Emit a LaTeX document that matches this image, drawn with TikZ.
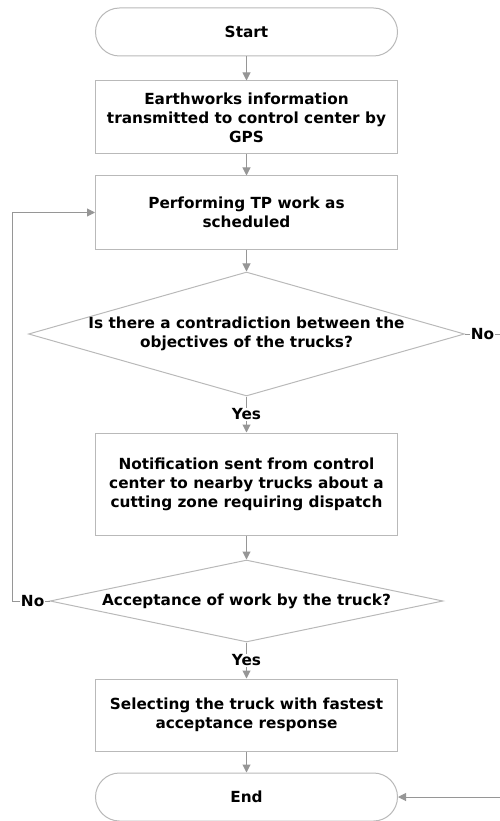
\documentclass[tikz,border=0pt]{standalone}
\usepackage{fontspec}
\setmainfont{DejaVu Sans}
\usetikzlibrary{arrows.meta,shapes.geometric}
\definecolor{boxline}{RGB}{185,185,185}
\definecolor{conn}{RGB}{150,150,150}
\tikzset{
  txt/.style={font=\fontsize{15.3}{19}\selectfont\bfseries, align=center, text=black},
  procbox/.style={draw=boxline, line width=1pt, fill=white, minimum width=302pt, inner sep=0pt, txt},
  termbox/.style={procbox, rounded corners=24pt, minimum height=48pt},
  decbox/.style={draw=boxline, line width=1pt, diamond, inner sep=0pt},
  flow/.style={draw=conn, line width=1pt, -{Triangle[length=8pt,width=8pt]}},
  plain/.style={draw=conn, line width=1pt},
  lbl/.style={txt, fill=white, inner sep=1pt}
}
\begin{document}
\begin{tikzpicture}[x=1pt,y=-1pt]
\useasboundingbox (0,0) rectangle (500,821);
\node[termbox] (start) at (246.5,32) {Start};
\node[procbox, minimum height=73pt] (b1) at (246.5,117.5) {Earthworks information\\transmitted to control center by\\GPS};
\node[procbox, minimum height=73pt] (b2) at (246.5,212.5) {Performing TP work as\\scheduled};
\node[decbox, minimum width=436pt, minimum height=124pt] (d1) at (246.5,334) {};
\node[txt] at (d1) {Is there a contradiction between the\\objectives of the trucks?};
\node[procbox, minimum height=102pt] (b3) at (246.5,484) {Notification sent from control\\center to nearby trucks about a\\cutting zone requiring dispatch};
\node[decbox, minimum width=393pt, minimum height=82pt] (d2) at (246.5,601) {};
\node[txt] at (d2) {Acceptance of work by the truck?};
\node[procbox, minimum height=72pt] (b4) at (246.5,715) {Selecting the truck with fastest\\acceptance response};
\node[termbox] (end) at (246.5,797) {End};
\coordinate (rightout) at (500,334);
\coordinate (rightin) at (500,797);
\coordinate (loopx) at (12,601);

\draw[flow] (start) -- (b1);
\draw[flow] (b1) -- (b2);
\draw[flow] (b2) -- (d1);
\draw[flow] (d1.south) -- node[lbl] (y1) {Yes} (b3.north);
\draw[flow] (b3) -- (d2);
\draw[flow] (d2.south) -- node[lbl] (y2) {Yes} (b4.north);
\draw[flow] (b4) -- (end);
\draw[plain] (d1.east) -- node[lbl, pos=0.5] (n1) {No} (rightout);
\draw[flow] (d2.west) -- node[lbl, pos=0.45] (n2) {No} (loopx) |- (b2.west);
\draw[flow] (rightin) -- (end.east);
\end{tikzpicture}
\end{document}
